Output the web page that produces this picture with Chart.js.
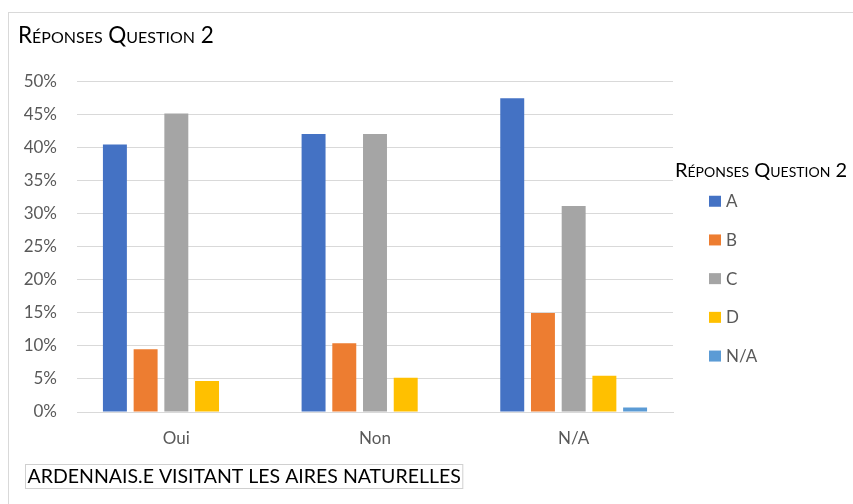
<!DOCTYPE html>
<html><head><meta charset="utf-8">
<script src="https://cdn.jsdelivr.net/npm/chart.js@4"></script>
<style>html,body{margin:0;padding:0;background:#fff;overflow:hidden}canvas{position:absolute;left:0;top:0}</style>
</head><body>
<canvas id="c" width="853" height="504"></canvas>
<script>
const categories = ['Oui', 'Non', 'N/A'];
const seriesNames = ['A', 'B', 'C', 'D', 'N/A'];
const serieA = [40.5, 42.1, 47.5];
const serieB = [9.5, 10.4, 15.0];
const serieC = [45.2, 42.1, 31.2];
const serieD = [4.7, 5.2, 5.5];
const serieNA = [0, 0, 0.7];
const seriesColors = ['#4472C4', '#ED7D31', '#A5A5A5', '#FFC000', '#5B9BD5'];
const yMax = 50;
const yStep = 5;
const chartTitle = 'Réponses Question 2';
const legendTitle = 'Réponses Question 2';
const footNote = 'ARDENNAIS.E VISITANT LES AIRES NATURELLES';

const seriesValues = [serieA, serieB, serieC, serieD, serieNA];
const FONT = 'Lato';

const extras = {
  id: 'extras',
  beforeDraw(chart) {
    const ctx = chart.ctx;
    ctx.save();
    ctx.fillStyle = '#fff';
    ctx.fillRect(0, 0, chart.width, chart.height);
    ctx.strokeStyle = '#d9d9d9';
    ctx.lineWidth = 1;
    ctx.strokeRect(8.5, 12.5, 860, 520);
    ctx.restore();
  },
  afterDraw(chart) {
    const ctx = chart.ctx;
    const ca = chart.chartArea;
    ctx.save();
    // legend
    ctx.textBaseline = 'middle';
    ctx.textAlign = 'left';
    ctx.fillStyle = '#000';
    ctx.font = 'small-caps 20px ' + FONT;
    ctx.fillText(legendTitle, ca.right + 2, ca.top + 88.5);
    ctx.font = '17px ' + FONT;
    chart.data.datasets.forEach((ds, i) => {
      const cy = ca.top + 119.5 + i * 38.7;
      ctx.fillStyle = ds.backgroundColor;
      ctx.fillRect(ca.right + 36, cy - 5.5, 12, 11);
      ctx.fillStyle = '#595959';
      ctx.fillText(ds.label, ca.right + 53, cy + 0.5);
    });
    // footnote box
    ctx.font = '19.5px ' + FONT;
    ctx.fillStyle = '#000';
    const w = ctx.measureText(footNote).width;
    const bx = 25, by = chart.height - 40, bh = 24;
    ctx.strokeStyle = '#d0d0d0';
    ctx.strokeRect(bx + 0.5, by + 0.5, w + 4, bh);
    ctx.fillText(footNote, bx + 2.5, by + bh / 2 + 1);
    ctx.restore();
  }
};

new Chart(document.getElementById('c'), {
  type: 'bar',
  data: {
    labels: categories,
    datasets: seriesNames.map((name, i) => ({
      label: name,
      data: seriesValues[i],
      backgroundColor: seriesColors[i],
      borderWidth: 0,
      categoryPercentage: 0.773,
      barPercentage: 0.78
    }))
  },
  options: {
    responsive: false,
    animation: false,
    devicePixelRatio: 1,
    layout: { padding: { left: 18, top: 13, right: 180, bottom: 47 } },
    plugins: {
      legend: { display: false },
      tooltip: { enabled: false },
      title: {
        display: true,
        text: chartTitle,
        align: 'start',
        color: '#000',
        font: { family: FONT, size: 22.5, weight: 'small-caps', lineHeight: 1.1 },
        padding: { top: 10, bottom: 34 }
      }
    },
    scales: {
      x: {
        grid: { display: false, drawTicks: false },
        border: { display: true, color: '#d9d9d9', width: 1 },
        ticks: { color: '#595959', font: { family: FONT, size: 17 }, padding: 16 },
        afterFit(s) { s.height = 45; }
      },
      y: {
        min: 0,
        max: yMax,
        grid: { color: '#d9d9d9', lineWidth: 1, drawTicks: false },
        border: { display: false },
        ticks: {
          stepSize: yStep,
          color: '#595959',
          font: { family: FONT, size: 17 },
          padding: 20,
          callback: v => v + '%'
        },
        afterFit(s) { s.width = 59; }
      }
    }
  },
  plugins: [extras]
});
</script>
</body></html>
